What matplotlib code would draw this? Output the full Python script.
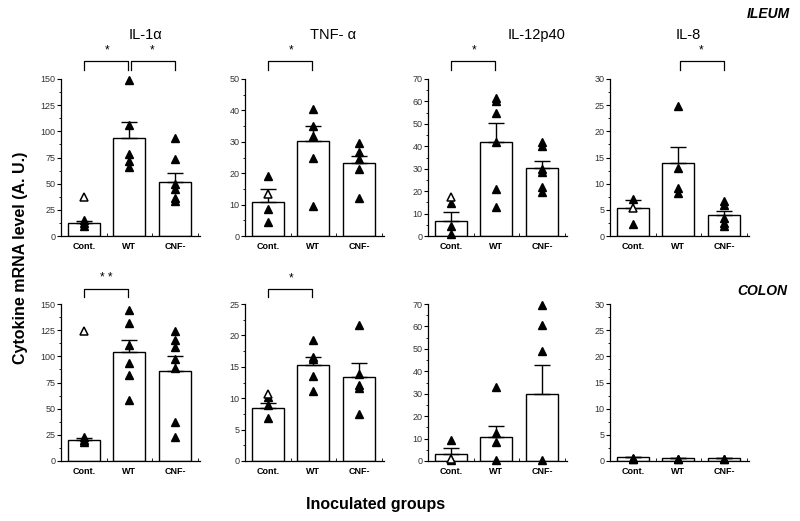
import matplotlib
matplotlib.use("Agg")
import matplotlib.pyplot as plt
from matplotlib.ticker import MultipleLocator
from matplotlib.transforms import blended_transform_factory

plt.rcParams["font.family"] = ["Liberation Sans", "DejaVu Sans"]

groups = ["Cont.", "WT", "CNF-"]
cytokines = ["IL-1\u03b1", "TNF- \u03b1", "IL-12p40", "IL-8"]

# ileum: bar heights, upper error, single animals (filled) and open symbols
ileum_means = [[12, 94, 52], [10.8, 30.2, 23.2], [6.6, 42.1, 30.1], [5.4, 13.9, 4.1]]
ileum_err = [[2, 15, 8], [4.1, 4.7, 2.4], [4.3, 8.3, 3.3], [1.5, 3.1, 0.7]]
ileum_pts = [
    [[15, 12, 10], [149, 106, 78, 72, 66], [94, 74, 50, 45, 36, 33]],
    [[19, 8.7, 4.3], [40.3, 34.9, 31.7, 24.7, 9.4], [29.6, 26.7, 24.5, 21.3, 12]],
    [[14.8, 4.3, 0.8], [61.5, 60, 55, 41.7, 21, 13], [42, 40, 29.8, 28.5, 21.7, 19.8]],
    [[7.1, 2.2], [24.8, 12.9, 9.2, 8.3], [6.7, 5.9, 3.5, 2.5, 1.9]],
]
ileum_open = [[37], [13.3], [17.6], [5.3]]

colon_means = [[20.1, 103.7, 85.9], [8.5, 15.3, 13.4], [3.3, 10.9, 29.8], [0.7, 0.6, 0.6]]
colon_err = [[1.6, 12.2, 14], [0.7, 1.2, 2.2], [2.5, 4.8, 13.2], [0, 0, 0]]
colon_pts = [
    [[23, 20, 18.5], [144.6, 131.8, 111, 93.5, 82.3, 58.4], [124, 116, 109, 97, 89, 37.7, 23.3]],
    [[10.2, 8.9, 6.8], [19.2, 16.6, 16.2, 13.6, 11.2], [21.7, 13.8, 12.1, 11.6, 7.5]],
    [[9.3, 0.4], [32.8, 12.7, 8.5, 0.3], [69.4, 60.7, 49, 0.3]],
    [[0.6, 0.4, 0.3], [0.3, 0.3], [0.3, 0.3]],
]
colon_open = [[124], [10.6], [1], []]

ylims = [[150, 50, 70, 30], [150, 25, 70, 30]]
ysteps = [[25, 10, 10, 5], [25, 5, 10, 5]]
yminor = [[12.5, 5, 5, 2.5], [12.5, 2.5, 5, 2.5]]

# significance brackets: (row, col, from group, to group, label)
brackets = [
    (0, 0, 0, 1, "*"), (0, 0, 1, 2, "*"),
    (0, 1, 0, 1, "*"), (0, 2, 0, 1, "*"), (0, 3, 1, 2, "*"),
    (1, 0, 0, 1, "* *"), (1, 1, 0, 1, "*"),
]

W, H = 800, 521
fig = plt.figure(figsize=(8, 5.21), dpi=100)

lefts = [61, 245, 428, 610]
tops = [79, 304]
aw, ah = 139, 157

axes = {}
for r in range(2):
    means = ileum_means if r == 0 else colon_means
    errs = ileum_err if r == 0 else colon_err
    pts = ileum_pts if r == 0 else colon_pts
    opens = ileum_open if r == 0 else colon_open
    for c in range(4):
        ax = fig.add_axes([lefts[c] / W, 1 - (tops[r] + ah) / H, aw / W, ah / H])
        axes[(r, c)] = ax
        x = list(range(3))
        ax.bar(x, means[c], width=0.7, color="white", edgecolor="black", linewidth=1.0, zorder=2)
        ax.errorbar(x, means[c], yerr=[[0, 0, 0], errs[c]], fmt="none", ecolor="black",
                    elinewidth=1.0, capsize=6, capthick=1.0, zorder=3)
        for g in range(3):
            ax.plot([g] * len(pts[c][g]), pts[c][g], "^", color="black", markersize=6,
                    clip_on=False, zorder=4)
        if opens[c]:
            ax.plot([0] * len(opens[c]), opens[c], "^", markerfacecolor="white",
                    markeredgecolor="black", markeredgewidth=1.1, markersize=6,
                    clip_on=False, zorder=5)
        ax.set_xlim(-0.5, 2.55)
        ax.set_ylim(0, ylims[r][c])
        ax.yaxis.set_major_locator(MultipleLocator(ysteps[r][c]))
        ax.yaxis.set_minor_locator(MultipleLocator(yminor[r][c]))
        ax.set_xticks(x)
        ax.set_xticklabels(groups, fontsize=6.5, fontweight="bold")
        ax.xaxis.set_minor_locator(MultipleLocator(0.25))
        ax.tick_params(axis="x", which="major", length=0, pad=4)
        ax.tick_params(axis="x", which="minor", length=2, width=0.6, direction="in")
        ax.tick_params(axis="y", which="major", length=3, width=0.8, labelsize=6.5,
                       labelcolor="#333333", pad=1)
        ax.tick_params(axis="y", which="minor", length=1.5, width=0.6)
        for s in ["top", "right"]:
            ax.spines[s].set_visible(False)
        ax.spines["left"].set_linewidth(0.9)
        ax.spines["bottom"].set_linewidth(0.9)

for (r, c, g0, g1, lab) in brackets:
    ax = axes[(r, c)]
    tr = blended_transform_factory(ax.transData, ax.transAxes)
    if r == 0:
        ytop, ybot, ystar = 1.115, 1.057, 1.185
    else:
        ytop, ybot, ystar = 1.096, 1.045, 1.166
    a = g0 + (0.03 if g0 == 1 else 0)
    b = g1 - (0.03 if g1 == 1 else 0)
    ax.plot([a, a, b, b], [ybot, ytop, ytop, ybot], color="black", linewidth=0.9,
            transform=tr, clip_on=False)
    ax.text((g0 + g1) / 2, ystar, lab, ha="center", va="center", fontsize=8.5,
            transform=tr)

title_x = [145, 333, 537, 688]
for c in range(4):
    fig.text(title_x[c] / W, 1 - 35 / H, cytokines[c], ha="center", va="center", fontsize=10.5)

fig.text(790 / W, 1 - 14 / H, "ILEUM", ha="right", va="center", fontsize=10,
         fontweight="bold", fontstyle="italic")
fig.text(787 / W, 1 - 291 / H, "COLON", ha="right", va="center", fontsize=10,
         fontweight="bold", fontstyle="italic")
fig.text(21 / W, 1 - 258 / H, "Cytokine mRNA level (A. U.)", rotation=90, ha="center",
         va="center", fontsize=11.5, fontweight="bold")
fig.text(376 / W, 1 - 505 / H, "Inoculated groups", ha="center", va="center",
         fontsize=11.5, fontweight="bold")

fig.savefig("out.png", dpi=100)
